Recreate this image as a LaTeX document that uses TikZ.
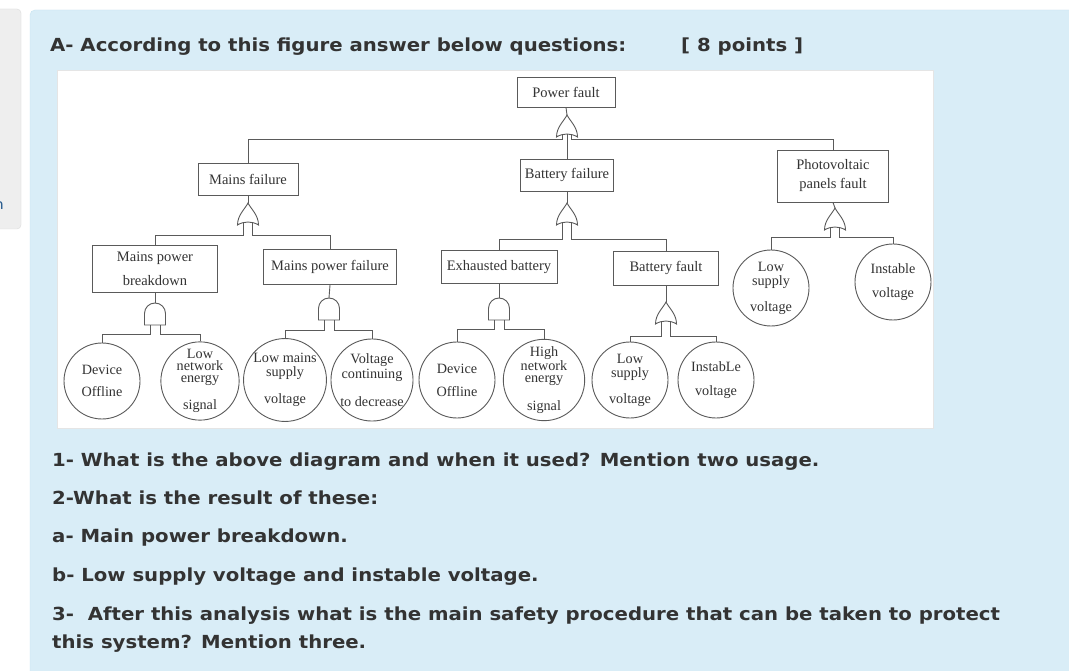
\documentclass[tikz,border=0pt]{standalone}
\usepackage{fontspec}
\setmainfont{Liberation Serif}
\newfontfamily\webfont[FakeStretch=1.095]{DejaVu Sans}
\usetikzlibrary{positioning}
\definecolor{panelblue}{HTML}{D9EDF7}
\definecolor{panelline}{HTML}{C6E4F1}
\definecolor{sidegray}{HTML}{EEEEEE}
\definecolor{sideline}{HTML}{DCDCDC}
\definecolor{inkgray}{HTML}{333333}
\definecolor{wiregray}{HTML}{5A5A5A}
\definecolor{linkblue}{HTML}{2A5D8F}

\tikzset{
  orgate/.pic={
    \draw[wire] (0,0) .. controls (-3,6) and (-10.5,12) .. (-10.5,22)
      .. controls (-4,18) and (4,18) .. (10.5,22)
      .. controls (10.5,12) and (3,6) .. (0,0) -- cycle;
    \coordinate (-in) at (0,0);
    \coordinate (-l) at (-4.5,19.3);
    \coordinate (-c) at (0,19);
    \coordinate (-r) at (4.5,19.3);
  },
  andgate/.pic={
    \draw[wire] (-10.5,22) -- (-10.5,10.5) .. controls (-10.5,4.7) and (-5.8,0) .. (0,0)
      .. controls (5.8,0) and (10.5,4.7) .. (10.5,10.5) -- (10.5,22) -- cycle;
    \coordinate (-in) at (0,0);
    \coordinate (-l) at (-5,22);
    \coordinate (-r) at (5,22);
  }
}

\begin{document}
\begin{tikzpicture}[x=1pt,y=-1pt,
    wire/.style={draw=wiregray,line width=0.9pt},
    event/.style={wire,rectangle,inner sep=1pt,align=center,text=inkgray,
      font=\fontsize{14.5}{15}\selectfont},
    basic/.style={wire,circle,minimum size=76pt,inner sep=0pt,align=center,text=inkgray,
      font=\fontsize{14.2}{12}\selectfont},
    quest/.style={anchor=base west,inner sep=0pt,text=inkgray,
      font=\webfont\bfseries\fontsize{18}{23}\selectfont}]
  \useasboundingbox (0,0) rectangle (1069,671);
  \clip (0,0) rectangle (1069,671);
  \fill[white] (0,0) rectangle (1069,671);
  % side panel and question panel
  \draw[fill=sidegray,draw=sideline,rounded corners=4pt] (-6,9) rectangle (21,229);
  \node[anchor=base east,inner sep=0pt,text=linkblue,font=\webfont\fontsize{14}{14}\selectfont] (cut) at (4,210) {n};
  \draw[fill=panelblue,draw=panelline,rounded corners=5pt] (30,10) rectangle (1090,700);
  \node[quest] (head) at (50,52) {A- According to this figure answer below questions:};
  \node[quest] (pts) at (681,52) {[ 8 points ]};
  \draw[fill=white,draw=black!10] (57,70) rectangle (933,428);

  % events
  \node[event,minimum width=98pt,minimum height=30pt] (pf) at (566,92) {Power fault};
  \node[event,minimum width=100pt,minimum height=32pt] (mf) at (248,179) {Mains failure};
  \node[event,minimum width=93pt,minimum height=32pt] (bf) at (567,175) {Battery failure};
  \node[event,minimum width=111pt,minimum height=52pt] (pv) at (833,176) {Photovoltaic\\[4pt]panels fault};
  \node[event,minimum width=125pt,minimum height=47pt] (mpb) at (155,269) {Mains power\\[9pt]breakdown};
  \node[event,minimum width=133pt,minimum height=35pt] (mpf) at (330,267) {Mains power failure};
  \node[event,minimum width=116pt,minimum height=33pt] (eb) at (499,267) {Exhausted battery};
  \node[event,minimum width=105pt,minimum height=34pt] (bfa) at (666,268) {Battery fault};

  % basic events
  \node[basic] (dev1) at (102,381) {Device\\[10pt]Offline};
  \node[basic] (lne) at (200,381) {Low\\network\\energy\\[13pt]signal};
  \node[basic] (lms) at (285,380) {Low mains\\[2pt]supply\\[13pt]voltage};
  \node[basic] (vcd) at (372,380) {Voltage\\[1pt]continuing\\[14pt]to decrease};
  \node[basic] (dev2) at (457,380) {Device\\[11pt]Offline};
  \node[basic] (hne) at (544,380) {High\\network\\energy\\[14pt]signal};
  \node[basic] (lsv1) at (630,380) {Low\\[2pt]supply\\[12pt]voltage};
  \node[basic] (isv1) at (716,380) {InstabLe\\[12pt]voltage};
  \node[basic] (lsv2) at (771,288) {Low\\[2pt]supply\\[12pt]voltage};
  \node[basic] (isv2) at (893,282) {Instable\\[12pt]voltage};

  % gates
  \pic (g0) at (567,115) {orgate};
  \pic (g1) at (248,203) {orgate};
  \pic (g2) at (567,203) {orgate};
  \pic (g3) at (835,208) {orgate};
  \pic (g4) at (155,303) {andgate};
  \pic (g5) at (329,298) {andgate};
  \pic (g6) at (499,298) {andgate};
  \pic (g7) at (666,302) {orgate};

  \foreach \b/\g in {pf/g0,mf/g1,bf/g2,pv/g3,mpb/g4,mpf/g5,eb/g6,bfa/g7}
    \draw[wire] (\b.south) -- (\g-in);
  \draw[wire] (g0-c) -- (bf.north);
  \foreach \g/\s/\t/\d in {g0/l/mf/5.5,g0/r/pv/5.5,g1/l/mpb/13,g1/r/mpf/13,
      g2/l/eb/17,g2/r/bfa/17,g3/l/lsv2/10,g3/r/isv2/10,g4/l/dev1/9,g4/r/lne/9,
      g5/l/lms/10,g5/r/vcd/10,g6/l/dev2/9,g6/r/hne/9,g7/l/lsv1/15,g7/r/isv1/15}
    \draw[wire] (\g-\s) -- ++(0,\d) -| (\t.north);

  % questions
  \node[quest] (q1) at (52,466) {1- What is the above diagram and when it used? Mention two usage.};
  \node[quest] (q2) at (52,504) {2-What is the result of these:};
  \node[quest] (qa) at (52,542) {a- Main power breakdown.};
  \node[quest] (qb) at (52,581) {b- Low supply voltage and instable voltage.};
  \node[quest] (q3) at (52,620) {3-\ \ After this analysis what is the main safety procedure that can be taken to protect};
  \node[quest] (q3b) at (52,648) {this system? Mention three.};
\end{tikzpicture}
\end{document}
